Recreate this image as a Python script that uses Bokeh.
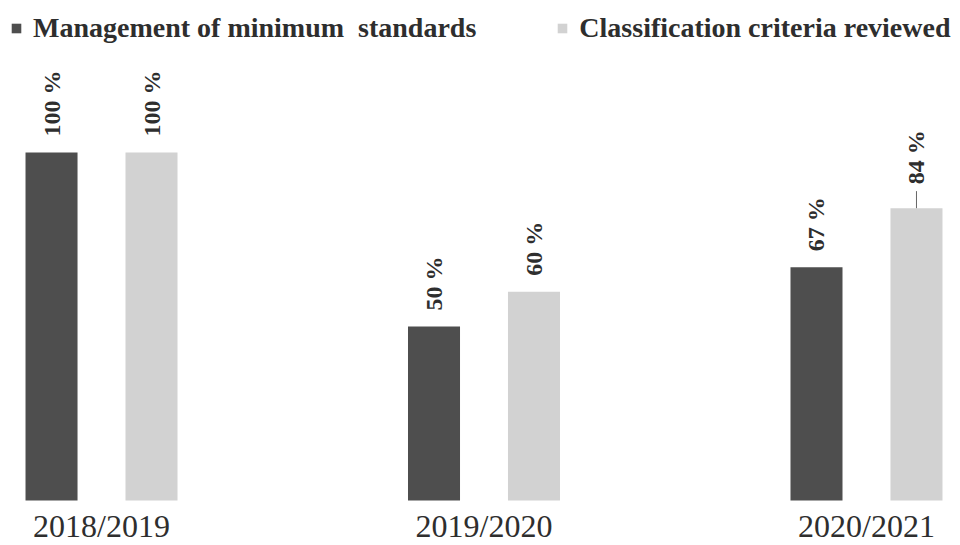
from bokeh.plotting import figure
from bokeh.models import ColumnDataSource, Legend, LegendItem, Range1d
from bokeh.core.properties import value
from bokeh.embed import file_html
from bokeh.resources import INLINE

# ---- data ----
categories = ["2018/2019", "2019/2020", "2020/2021"]
series_names = ["Management of minimum  standards", "Classification criteria reviewed"]
management = [100, 50, 67]
classification = [100, 60, 84]

# ---- styles ----
FONT = "Liberation Serif"
DARK = "#4e4e4e"
LIGHT = "#d2d2d2"
TEXT = "#2e2e2e"
OFFSET = 0.1307      # bar offset from group centre (group units)
BAR_W = 0.136
GAP = 4.6            # label gap above bar (value units)
CALLOUT_EXTRA = 2.3  # extra lift for the label that has a leader line
LEADER = 4.9
CAT_Y = -12.6        # category label bottom edge (value units)

p = figure(width=960, height=545, output_backend="svg", toolbar_location=None,
           x_range=Range1d(-0.2641, 2.2458), y_range=Range1d(-12.93, 143.68),
           min_border=0, outline_line_color=None)
p.axis.visible = False
p.grid.visible = False
p.background_fill_color = "white"
p.border_fill_color = "white"

idx = list(range(len(categories)))
x_dark = [i - OFFSET for i in idx]
x_light = [i + OFFSET for i in idx]

src_d = ColumnDataSource(dict(x=x_dark, top=management,
                              lab=[f"{v} %" for v in management],
                              ly=[v + GAP for v in management]))
ly_light = []
for i, v in enumerate(classification):
    ly_light.append(v + GAP + (CALLOUT_EXTRA if categories[i] == "2020/2021" else 0))
src_l = ColumnDataSource(dict(x=x_light, top=classification,
                              lab=[f"{v} %" for v in classification],
                              ly=ly_light))

r_d = p.vbar(x="x", top="top", bottom=0, width=BAR_W, source=src_d,
             fill_color=DARK, line_color=None)
r_l = p.vbar(x="x", top="top", bottom=0, width=BAR_W, source=src_l,
             fill_color=LIGHT, line_color=None)

# leader line for the 2020/2021 classification label
ci = categories.index("2020/2021")
p.segment(x0=[x_light[ci]], y0=[classification[ci]], x1=[x_light[ci]],
          y1=[classification[ci] + LEADER], line_color="#666666", line_width=1)

for src in (src_d, src_l):
    p.text(x="x", y="ly", text="lab", source=src, angle=1.5708,
           text_align="left", text_baseline="middle",
           text_font=value(FONT), text_font_style="bold",
           text_font_size="24px", text_color=TEXT)

# category labels
p.text(x=idx, y=[CAT_Y] * len(idx), text=categories,
       text_align="center", text_baseline="bottom",
       text_font=value(FONT), text_font_size="32px", text_color=TEXT)

legend = Legend(items=[LegendItem(label=series_names[0], renderers=[r_d]),
                       LegendItem(label=series_names[1], renderers=[r_l])],
                location=(10, 501), orientation="horizontal",
                glyph_width=12, glyph_height=12, label_standoff=11,
                spacing=80, padding=5, margin=0,
                border_line_color=None, background_fill_alpha=0,
                label_text_font=FONT, label_text_font_style="bold",
                label_text_font_size="28px", label_text_color=TEXT)
p.add_layout(legend, "center")

open("out.html", "w").write(file_html(p, INLINE))
